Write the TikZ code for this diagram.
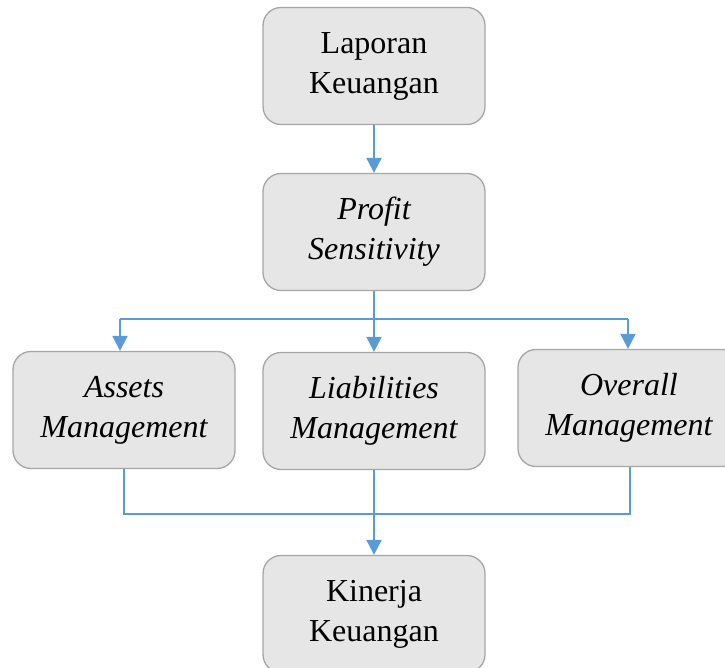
\documentclass[tikz,border=0pt]{standalone}
\usepackage{fontspec}
\setmainfont{Liberation Serif}
\usetikzlibrary{arrows.meta}
\definecolor{boxfill}{HTML}{E6E6E6}
\definecolor{boxline}{HTML}{A6A6A6}
\definecolor{arrblue}{HTML}{5B9BD5}
\tikzset{
  box/.style={draw=boxline, fill=boxfill, line width=1.3pt, rounded corners=18pt,
    minimum width=222pt, minimum height=117pt, align=center,
    font=\fontsize{32}{40}\selectfont, inner sep=0pt},
  conn/.style={draw=arrblue, line width=2pt},
  thin/.style={draw=arrblue, line width=1.3pt},
  arr/.style={conn, -{Triangle[width=15pt,length=15pt]}}
}
\begin{document}
\begin{tikzpicture}[x=1pt,y=-1pt]
\useasboundingbox (0,0) rectangle (725,668);
\clip (0,0) rectangle (725,668);
\node[box] (lap) at (374,66) {Laporan\\Keuangan};
\node[box] (prof) at (374,232) {\itshape Profit\\\itshape Sensitivity};
\node[box] (asset) at (124,410) {\itshape Assets\\\itshape Management};
\node[box] (liab) at (374,411) {\itshape Liabilities\\\itshape Management};
\node[box] (over) at (629,408) {\itshape Overall\\\itshape Management};
\node[box] (kin) at (374,614) {Kinerja\\Keuangan};
\coordinate (busL) at (120,319);
\coordinate (busR) at (628,319);
\coordinate (botL) at (124,514);
\coordinate (botR) at (630,514);
\draw[arr] (lap.south) -- (prof.north);
\draw[arr] (prof.south) -- (liab.north);
\draw[conn] (busL) -- (busR);
\draw[arr] (busL) -- (busL |- asset.north);
\draw[arr] (busR) -- (busR |- over.north);
\draw[thin] (botL |- asset.south) -- (botL) -- (botR) -- (botR |- over.south);
\draw[thin] (liab.south) -- (liab.south |- botL);
\draw[arr] (liab.south |- botL) -- (kin.north);
\end{tikzpicture}
\end{document}
